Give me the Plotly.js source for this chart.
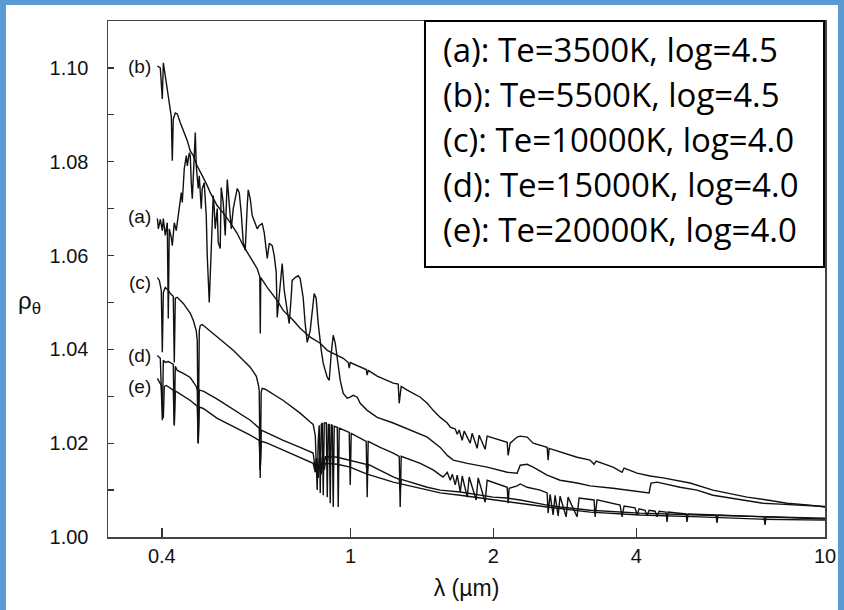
<!DOCTYPE html>
<html><head><meta charset="utf-8">
<script src="https://cdn.plot.ly/plotly-3.0.1.min.js"></script>
<style>html,body{margin:0;padding:0;background:#fff;} #chart{width:844px;height:610px;}</style>
</head><body><div id="chart"></div>
<script>
// wavelength (µm) and rho_theta values
const aLambda=[0.3914,0.3933,0.3970,0.4009,0.4029,0.4067,0.4107,0.4127,0.4147,0.4188,0.4208,0.4249,0.4290,0.4332,0.4375,0.4396,0.4417,0.4460,0.4504,0.4526,0.4570,0.4592,0.4614,0.4637,0.4682,0.4705,0.4727,0.4773,0.4797,0.4843,0.4867,0.4914,0.4962,0.4986,0.5035,0.5084,0.5133,0.5158,0.5183,0.5234,0.5259,0.5310,0.5336,0.5388,0.5441,0.5495,0.5548,0.5603,0.5657,0.5712,0.5768,0.5824,0.5880,0.5938,0.5996,0.6054,0.6084,0.6143,0.6203,0.6263,0.6355,0.6417,0.6511,0.6575,0.6672,0.6737,0.6835,0.6902,0.6969,0.7003,0.7071,0.7174,0.7244,0.7350,0.7422,0.7494,0.7530,0.7640,0.7752,0.7828,0.7942,0.8020,0.8100,0.8218,0.8338,0.8379,0.8459,0.8545,0.8672,0.8756,0.8928,0.9014,0.9101,0.9190,0.9281,0.9371,0.9508,0.9647,0.9836,0.9981,1.0127,1.0326,1.0476,1.0838,1.1377,1.2296,1.3354,1.4506,1.5452,1.5985,1.6459,1.7615,1.9399,2.1380,2.2442,2.2774,2.3559,2.4255,2.5955,2.7642,3.0012,3.1970,3.5745,4.2162,4.2574,4.2987,4.4259,4.9474,5.3722,5.8054,6.3064,6.8482,7.4014,8.0374,8.8572,10.0];
const aRho=[1.0679,1.0657,1.0677,1.0653,1.0679,1.0643,1.0670,1.0466,1.0657,1.0638,1.0621,1.0670,1.0653,1.0685,1.0721,1.0734,1.0713,1.0785,1.0813,1.0791,1.0819,1.0813,1.0755,1.0721,1.0813,1.0862,1.0791,1.0743,1.0770,1.0700,1.0743,1.0755,1.0685,1.0600,1.0500,1.0628,1.0728,1.0700,1.0657,1.0700,1.0628,1.0615,1.0745,1.0713,1.0643,1.0762,1.0706,1.0657,1.0700,1.0721,1.0743,1.0734,1.0691,1.0628,1.0611,1.0706,1.0740,1.0721,1.0685,1.0674,1.0657,1.0664,1.0668,1.0649,1.0594,1.0626,1.0621,1.0600,1.0564,1.0468,1.0511,1.0583,1.0526,1.0477,1.0455,1.0511,1.0547,1.0553,1.0557,1.0551,1.0511,1.0455,1.0415,1.0440,1.0511,1.0519,1.0509,1.0455,1.0398,1.0370,1.0340,1.0334,1.0391,1.0430,1.0413,1.0383,1.0334,1.0306,1.0296,1.0298,1.0302,1.0298,1.0285,1.0270,1.0255,1.0243,1.0228,1.0213,1.0191,1.0174,1.0164,1.0157,1.0149,1.0138,1.0136,1.0153,1.0155,1.0149,1.0132,1.0121,1.0115,1.0109,1.0104,1.0096,1.0094,1.0115,1.0117,1.0106,1.0100,1.0089,1.0083,1.0077,1.0072,1.0070,1.0068,1.0065];

const bLambda=[0.3914,0.3970,0.4009,0.4029,0.4067,0.4107,0.4168,0.4188,0.4208,0.4228,0.4270,0.4311,0.4375,0.4439,0.4526,0.4592,0.4659,0.4750,0.4820,0.4890,0.4986,0.5059,0.5234,0.5388,0.5575,0.5768,0.5938,0.6143,0.6355,0.6435,0.6450,0.6465,0.6672,0.7003,0.7210,0.7567,0.7828,0.8218,0.8629,0.8928,0.9281,0.9647,0.9884,0.9932,0.9981,1.0476,1.0786,1.0838,1.0890,1.1377,1.2296,1.2599,1.2659,1.2782,1.3161,1.4023,1.4506,1.4928,1.5452,1.5985,1.6221,1.6620,1.6777,1.6940,1.7187,1.7356,1.7865,1.8038,1.8482,1.8664,1.9212,1.9399,1.9973,2.1380,2.1484,2.1694,2.2442,2.2774,2.3559,2.4255,2.5955,2.6082,2.6209,2.7642,3.0012,3.1970,3.2597,3.2919,3.5745,3.7344,3.7710,4.0164,4.2779,4.5562,5.1934,5.8054,6.8482,7.5470,8.3157,9.2970,10.0];
const bRho=[1.1004,1.1000,1.0934,1.1011,1.0983,1.0955,1.0919,1.0896,1.0802,1.0891,1.0904,1.0902,1.0883,1.0866,1.0845,1.0823,1.0813,1.0791,1.0777,1.0766,1.0749,1.0734,1.0706,1.0691,1.0670,1.0647,1.0621,1.0596,1.0572,1.0555,1.0434,1.0553,1.0532,1.0504,1.0483,1.0462,1.0445,1.0426,1.0413,1.0398,1.0389,1.0381,1.0372,1.0360,1.0372,1.0362,1.0357,1.0345,1.0355,1.0343,1.0328,1.0326,1.0285,1.0321,1.0313,1.0298,1.0285,1.0270,1.0255,1.0243,1.0234,1.0230,1.0219,1.0228,1.0206,1.0226,1.0200,1.0221,1.0189,1.0217,1.0187,1.0215,1.0211,1.0202,1.0174,1.0200,1.0213,1.0215,1.0213,1.0200,1.0191,1.0164,1.0189,1.0181,1.0170,1.0164,1.0155,1.0162,1.0149,1.0138,1.0147,1.0136,1.0130,1.0126,1.0115,1.0100,1.0085,1.0079,1.0072,1.0068,1.0064];

const cLambda=[0.3914,0.3952,0.3989,0.4009,0.4029,0.4067,0.4127,0.4168,0.4228,0.4249,0.4270,0.4311,0.4439,0.4592,0.4659,0.4727,0.4750,0.4773,0.4797,0.4820,0.4867,0.5234,0.5657,0.6143,0.6324,0.6386,0.6417,0.6448,0.6479,0.6511,0.6607,0.7210,0.7828,0.8218,0.8338,0.8423,0.8459,0.8502,0.8545,0.8586,0.8629,0.8672,0.8714,0.8756,0.8799,0.8885,0.8928,0.8971,0.9014,0.9058,0.9101,0.9146,0.9190,0.9235,0.9371,0.9416,0.9462,0.9932,0.9981,1.0029,1.0786,1.0838,1.0890,1.1544,1.2296,1.2659,1.2720,1.2782,1.4023,1.4928,1.5452,1.5669,1.5985,1.6221,1.6379,1.6620,1.6777,1.7026,1.7187,1.7615,1.7779,1.8390,1.8572,1.9212,1.9399,1.9973,2.1380,2.1484,2.1589,2.2442,2.2774,2.3559,2.5092,2.5955,2.6082,2.6336,2.6723,2.6980,2.7379,2.7642,2.8466,2.8736,3.0012,3.0306,3.2597,3.2755,3.3077,3.6983,3.7344,3.7710,3.9777,4.0164,4.0555,4.1755,4.2162,4.2574,4.3828,4.4259,4.4689,4.6227,4.6451,4.6676,5.0938,5.1186,5.1436,5.8917,5.9203,5.9491,7.4373,7.4734,7.5098,10.0];
const cRho=[1.0553,1.0547,1.0526,1.0394,1.0521,1.0532,1.0526,1.0519,1.0513,1.0372,1.0509,1.0511,1.0498,1.0477,1.0462,1.0440,1.0419,1.0200,1.0440,1.0451,1.0453,1.0426,1.0398,1.0362,1.0343,1.0326,1.0313,1.0126,1.0309,1.0317,1.0315,1.0291,1.0264,1.0245,1.0240,1.0217,1.0143,1.0100,1.0206,1.0238,1.0094,1.0240,1.0243,1.0089,1.0243,1.0243,1.0085,1.0240,1.0240,1.0072,1.0240,1.0238,1.0064,1.0236,1.0234,1.0064,1.0232,1.0223,1.0111,1.0221,1.0204,1.0085,1.0204,1.0191,1.0179,1.0172,1.0064,1.0172,1.0157,1.0143,1.0132,1.0128,1.0138,1.0121,1.0134,1.0111,1.0132,1.0096,1.0130,1.0085,1.0128,1.0079,1.0126,1.0074,1.0121,1.0117,1.0106,1.0072,1.0104,1.0109,1.0113,1.0106,1.0100,1.0094,1.0051,1.0091,1.0047,1.0089,1.0045,1.0087,1.0043,1.0085,1.0043,1.0083,1.0079,1.0043,1.0079,1.0068,1.0043,1.0066,1.0062,1.0047,1.0060,1.0057,1.0045,1.0057,1.0055,1.0043,1.0055,1.0053,1.0032,1.0053,1.0049,1.0032,1.0049,1.0047,1.0030,1.0047,1.0043,1.0026,1.0043,1.0038];

const dLambda=[0.3914,0.3970,0.4009,0.4029,0.4067,0.4127,0.4168,0.4228,0.4249,0.4270,0.4311,0.4439,0.4592,0.4727,0.4750,0.4773,0.4797,0.4890,0.5234,0.5657,0.6143,0.6417,0.6448,0.6479,0.7210,0.7828,0.8338,0.8423,0.8459,0.8545,0.8586,0.8672,0.8714,0.8799,0.8842,0.8928,0.8971,0.9371,0.9981,1.0786,1.0838,1.0890,1.2296,1.2659,1.2720,1.2782,1.4506,1.5452,1.7026,1.9973,2.1380,2.2774,2.5955,2.7642,3.1970,4.0752,5.4512,7.2946,10.0];
const dRho=[1.0387,1.0381,1.0249,1.0377,1.0372,1.0374,1.0372,1.0368,1.0238,1.0364,1.0355,1.0349,1.0340,1.0321,1.0313,1.0200,1.0313,1.0311,1.0294,1.0272,1.0249,1.0232,1.0143,1.0228,1.0206,1.0191,1.0179,1.0143,1.0168,1.0132,1.0168,1.0143,1.0170,1.0153,1.0172,1.0160,1.0172,1.0170,1.0164,1.0155,1.0132,1.0155,1.0128,1.0123,1.0100,1.0123,1.0106,1.0100,1.0096,1.0085,1.0083,1.0079,1.0068,1.0064,1.0057,1.0051,1.0047,1.0043,1.0040];

const eLambda=[0.3914,0.3952,0.3989,0.4029,0.4048,0.4088,0.4168,0.4228,0.4249,0.4270,0.4311,0.4417,0.4592,0.4750,0.4773,0.4797,0.4890,0.5234,0.5657,0.6143,0.6417,0.6448,0.6479,0.6672,0.7210,0.7828,0.8338,0.8423,0.8459,0.8545,0.8586,0.8672,0.8714,0.8799,0.8842,0.9371,0.9981,1.0476,1.0838,1.2296,1.4506,1.5452,1.7026,1.9973,2.2774,2.5955,3.1970,4.0752,5.4512,7.2946,10.0];
const eRho=[1.0338,1.0330,1.0323,1.0253,1.0321,1.0323,1.0317,1.0313,1.0238,1.0311,1.0309,1.0302,1.0291,1.0279,1.0200,1.0277,1.0274,1.0253,1.0236,1.0217,1.0206,1.0143,1.0204,1.0200,1.0185,1.0170,1.0157,1.0138,1.0155,1.0126,1.0155,1.0134,1.0157,1.0143,1.0157,1.0155,1.0149,1.0140,1.0134,1.0117,1.0100,1.0094,1.0089,1.0079,1.0072,1.0064,1.0053,1.0047,1.0043,1.0038,1.0036];

const curveTags=['(a)','(b)','(c)','(d)','(e)'];
const tagRho=[1.0683,1.1004,1.0543,1.0387,1.0321];
const tagLambda=0.383;
const legendLines=['(a): Te=3500K, log=4.5','(b): Te=5500K, log=4.5','(c): Te=10000K, log=4.0','(d): Te=15000K, log=4.0','(e): Te=20000K, log=4.0'];
const xTickVals=[0.4,1,2,4,10];
const xTickText=['0.4','1','2','4','10'];
const yTickVals=[1.00,1.02,1.04,1.06,1.08,1.10];
const yTickText=['1.00','1.02','1.04','1.06','1.08','1.10'];

const series=[[aLambda,aRho],[bLambda,bRho],[cLambda,cRho],[dLambda,dRho],[eLambda,eRho]];
const traces=series.map(s=>({x:s[0],y:s[1],type:'scatter',mode:'lines',line:{color:'#111',width:1.4},hoverinfo:'skip',showlegend:false}));

const tickFont={family:'Liberation Sans, Arial, sans-serif',size:20,color:'#111'};
const annotations=[];
curveTags.forEach((t,i)=>annotations.push({x:Math.log10(tagLambda),y:tagRho[i],xref:'x',yref:'y',text:t,showarrow:false,xanchor:'right',yanchor:'middle',font:{family:'Liberation Sans, Arial, sans-serif',size:19,color:'#111'}}));
const legY=[0.9438,0.8566,0.7694,0.6822,0.5950];
legendLines.forEach((t,i)=>annotations.push({x:0.4644,y:legY[i],xref:'paper',yref:'paper',text:t,showarrow:false,xanchor:'left',yanchor:'middle',font:{family:'Open Sans, sans-serif',size:33,color:'#000'}}));
annotations.push({x:-0.1088,y:0.4554,xref:'paper',yref:'paper',text:'ρ<sub>θ</sub>',showarrow:false,xanchor:'center',yanchor:'middle',font:{family:'Liberation Sans, Arial, sans-serif',size:24,color:'#111'}});

const blue='#5B9BD5';
const shapes=[
 {type:'rect',xref:'paper',yref:'paper',x0:-0.16,x1:-0.1423,y0:-0.2,y1:1.06,fillcolor:blue,line:{width:0}},
 {type:'rect',xref:'paper',yref:'paper',x0:-0.16,x1:1.04,y0:1.031,y1:1.06,fillcolor:blue,line:{width:0}},
 {type:'rect',xref:'paper',yref:'paper',x0:1.0181,x1:1.04,y0:-0.2,y1:1.06,fillcolor:blue,line:{width:0}},
 {type:'rect',xref:'paper',yref:'paper',x0:0.4421,x1:0.9986,y0:0.5233,y1:1.0,fillcolor:'rgba(255,255,255,1)',line:{color:'#000',width:2}}
];

const layout={
 width:844,height:610,
 margin:{l:108,r:19,t:21,b:73,pad:0},
 paper_bgcolor:'#fff',plot_bgcolor:'#fff',
 showlegend:false,
 xaxis:{type:'log',range:[Math.log10(0.308),1],tickmode:'array',tickvals:xTickVals,ticktext:xTickText,ticks:'inside',ticklen:9,tickwidth:1.3,tickcolor:'#333',showgrid:false,zeroline:false,showline:true,linecolor:'#444',linewidth:1.5,mirror:true,tickfont:tickFont,ticklabelstandoff:0,
   title:{text:'λ (µm)',font:{family:'Liberation Sans, Arial, sans-serif',size:23,color:'#111'},standoff:14}},
 yaxis:{range:[1.0,1.11],tickmode:'array',tickvals:yTickVals,ticktext:yTickText,ticks:'inside',ticklen:6,tickwidth:1.3,tickcolor:'#333',showgrid:false,zeroline:false,showline:true,linecolor:'#444',linewidth:1.5,mirror:true,tickfont:tickFont,ticklabelstandoff:14,
   minor:{tickmode:'array',tickvals:[1.01,1.03,1.05,1.07,1.09],ticks:'inside',ticklen:6,tickwidth:1.2,tickcolor:'#333',showgrid:false}},
 shapes:shapes,annotations:annotations
};
Plotly.newPlot('chart',traces,layout,{displayModeBar:false,staticPlot:true});
</script></body></html>
